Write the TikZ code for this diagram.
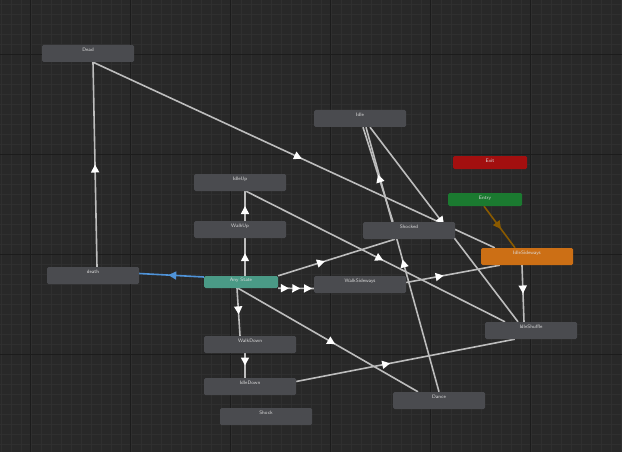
\documentclass[tikz,border=0pt]{standalone}
\usetikzlibrary{calc,decorations.markings,arrows.meta}
\pgfdeclarelayer{grid}\pgfdeclarelayer{bg}\pgfsetlayers{grid,bg,main}
\definecolor{bgc}{HTML}{282828}
\definecolor{minorc}{HTML}{2F2F2F}
\definecolor{majorc}{HTML}{1C1C1C}
\definecolor{stc}{HTML}{4A4B4F}
\definecolor{exitc}{HTML}{A30F0F}
\definecolor{entryc}{HTML}{1B7A30}
\definecolor{orc}{HTML}{CC6F15}
\definecolor{anyc}{HTML}{4A9A86}
\definecolor{linec}{HTML}{BDBDBD}
\definecolor{bluec}{HTML}{4F93D8}
\definecolor{brownc}{HTML}{8A5A00}
\definecolor{txtc}{HTML}{DDDDDD}
\tikzset{
 st/.style={fill=stc,rounded corners=1.5pt,minimum width=92pt,minimum height=17pt,inner sep=0pt,
   text=txtc,font=\sffamily\fontsize{5}{6}\selectfont,text height=3.5pt,text depth=7pt},
 tr/.style={postaction={decorate,decoration={markings,mark=at position #1 with {\arrow[white]{Triangle[length=8pt,width=8pt]}}}}},
 ln/.style={draw=linec,line width=1.6pt},
}
\begin{document}
\begin{tikzpicture}[x=1pt,y=-1pt]
\useasboundingbox (0,0) rectangle (622,452);
\begin{pgfonlayer}{grid}
\fill[bgc] (0,0) rectangle (622,452);
\foreach \i in {0,10,...,620} \draw[minorc,line width=0.5pt] (\i+1,0) -- (\i+1,452);
\foreach \i in {0,10,...,450} \draw[minorc,line width=0.5pt] (0,\i+4) -- (622,\i+4);
\foreach \i in {30,130,...,630} \draw[majorc,line width=0.8pt] (\i,0) -- (\i,452);
\foreach \i in {54,154,...,454} \draw[majorc,line width=0.8pt] (0,\i) -- (622,\i);
\end{pgfonlayer}

\node[st] (Dead) at (88,53.5) {Dead};
\node[st] (Idle) at (360,118.5) {Idle};
\node[st,fill=exitc,minimum width=74pt,minimum height=13pt,text depth=4pt] (Exit) at (490,162.5) {Exit};
\node[st,fill=entryc,minimum width=74pt,minimum height=13pt,text depth=4pt] (Entry) at (485,199.5) {Entry};
\node[st] (IdleUp) at (240,182.5) {IdleUp};
\node[st] (WalkUp) at (240,229.5) {WalkUp};
\node[st] (Shocked) at (409,230.5) {Shocked};
\node[st,fill=orc] (IdleSideways) at (527,256.5) {IdleSideways};
\node[st] (death) at (93,275.5) {death};
\node[st,fill=anyc,minimum width=74pt,minimum height=12pt,text depth=4pt] (AnyState) at (241,282) {Any State};
\node[st] (WalkSideways) at (360,284.5) {WalkSideways};
\node[st] (IdleShuffle) at (531,330.5) {IdleShuffle};
\node[st] (WalkDown) at (250,344.5) {WalkDown};
\node[st] (IdleDown) at (250,386.5) {IdleDown};
\node[st] (Shock) at (266,416.5) {Shock};
\node[st] (Dance) at (439,400.5) {Dance};

\begin{pgfonlayer}{bg}
\draw[ln,tr=0.5] ($(death.north)+(4,0)$) -- ($(Dead.south)+(5,0)$);
\draw[draw=bluec,line width=1.6pt,postaction={decorate,decoration={markings,mark=at position 0.55 with {\arrow[bluec]{Triangle[length=8pt,width=8pt]}}}}] ($(AnyState.west)+(0,-5)$) -- ($(death.east)+(0,-2)$);
\draw[ln,tr=0.52] ($(Dead.south)+(5,0)$) -- ($(IdleSideways.north west)+(14,0)$);
\draw[ln,tr=0.6] ($(AnyState.north)+(4,0)$) -- ($(WalkUp.south)+(5,0)$);
\draw[ln,tr=0.5] ($(WalkUp.north)+(5,0)$) -- ($(IdleUp.south)+(5,0)$);
\draw[ln,tr=0.53] ($(IdleUp.south)+(6,0)$) -- ($(IdleShuffle.north)+(-26,0)$);
\draw[ln,tr=0.4] ($(AnyState.north east)+(0,0)$) -- ($(Shocked.south)+(-14,0)$);
\draw[ln,tr=0.3,tr=0.62,tr=0.95] ($(AnyState.south east)+(0,0)$) -- ($(WalkSideways.west)+(0,4)$);
\draw[ln,tr=0.5] (Dance.north) -- ($(Idle.south)+(6,0)$);
\draw[ln,tr=0.5] ($(Shocked.north)+(-16,0)$) -- ($(Idle.south)+(3,0)$);
\draw[ln,tr=0.5] ($(Idle.south)+(10,0)$) -- ($(IdleShuffle.north)+(-13,0)$);
\draw[ln,tr=0.5] ($(IdleSideways.south)+(-5,0)$) -- ($(IdleShuffle.north)+(-7,0)$);
\draw[draw=brownc,line width=1.6pt,postaction={decorate,decoration={markings,mark=at position 0.55 with {\arrow[brownc]{Triangle[length=8pt,width=8pt]}}}}] ($(Entry.south)+(-1,0)$) -- ($(IdleSideways.north)+(-12,0)$);
\draw[ln,tr=0.4] ($(WalkSideways.east)+(0,-2)$) -- ($(IdleSideways.south west)+(19,0)$);
\draw[ln,tr=0.55] ($(AnyState.south)+(-4,0)$) -- ($(WalkDown.north)+(-10,0)$);
\draw[ln,tr=0.5] ($(WalkDown.south)+(-5,0)$) -- ($(IdleDown.north)+(-5,0)$);
\draw[ln,tr=0.54] ($(AnyState.south)+(-3,0)$) -- ($(Dance.north)+(-21,0)$);
\draw[ln,tr=0.43] ($(IdleDown.east)+(0,-5)$) -- ($(IdleShuffle.south west)+(30,0)$);
\end{pgfonlayer}
\end{tikzpicture}
\end{document}
